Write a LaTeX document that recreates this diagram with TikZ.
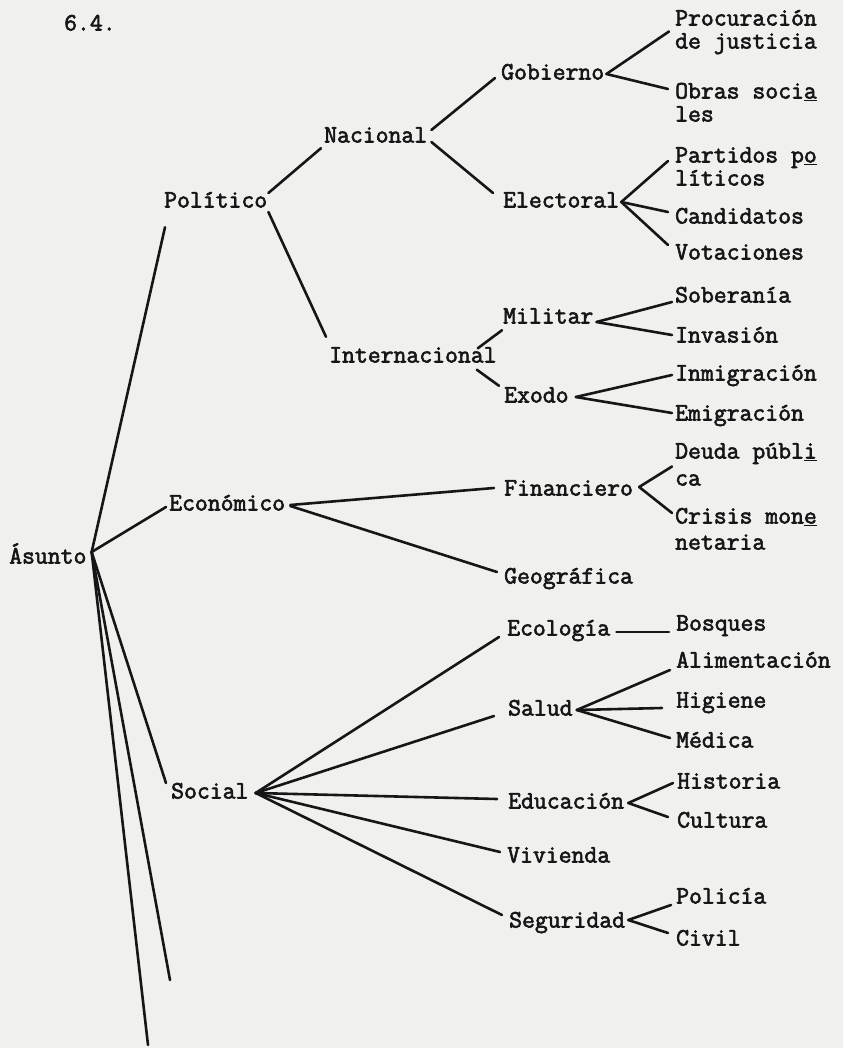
\documentclass[tikz,border=0pt]{standalone}
\usepackage{fontspec}
\newfontfamily\tw{Latin Modern Mono}[FakeBold=2.4]
\usetikzlibrary{calc}
\definecolor{paper}{RGB}{240,240,238}
\definecolor{ink}{RGB}{22,22,22}
\newcommand{\usyl}[1]{\underline{#1}}
\begin{document}
\begin{tikzpicture}[x=1pt,y=-1pt,
  lbl/.style={font=\tw\fontsize{25}{27}\selectfont, text=ink, inner sep=1pt,
              text height=13pt, text depth=2pt, anchor=west},
  conn/.style={draw=ink, line width=2.6pt, line cap=round}]
\fill[paper] (0,0) rectangle (843,1048);
\useasboundingbox (0,0) rectangle (843,1048);

% ---- labels ----
\node[lbl] (t64) at (63,25) {6.4.};
\node[lbl] (asu) at (8,558) {Ásunto};
\node[lbl] (pol) at (163,202) {Político};
\node[lbl] (eco) at (168,505) {Económico};
\node[lbl] (soc) at (170,793) {Social};

\node[lbl] (nac) at (323,137) {Nacional};
\node[lbl] (int) at (328,357) {Internacional};

\node[lbl] (gob) at (500,74) {Gobierno};
\node[lbl] (ele) at (502,202) {Electoral};
\node[lbl] (mil) at (502,318) {Militar};
\node[lbl] (exo) at (503,397) {Exodo};
\node[lbl] (fin) at (503,490) {Financiero};
\node[lbl] (geo) at (503,578) {Geográfica};
\node[lbl] (ecl) at (506,630) {Ecología};
\node[lbl] (sal) at (507,710) {Salud};
\node[lbl] (edu) at (507,803) {Educación};
\node[lbl] (viv) at (506,857) {Vivienda};
\node[lbl] (seg) at (508,922) {Seguridad};

\node[lbl] (pr1) at (674,20) {Procuración};
\node[lbl] (pr2) at (674,43) {de justicia};
\node[lbl] (ob1) at (674,93) {Obras soci\usyl{a}};
\node[lbl] (ob2) at (674,116) {les};
\node[lbl] (pa1) at (674,157) {Partidos p\usyl{o}};
\node[lbl] (pa2) at (674,180) {líticos};
\node[lbl] (can) at (674,218) {Candidatos};
\node[lbl] (vot) at (674,254) {Votaciones};
\node[lbl] (sob) at (674,297) {Soberanía};
\node[lbl] (inv) at (674,337) {Invasión};
\node[lbl] (inm) at (674,375) {Inmigración};
\node[lbl] (emi) at (674,415) {Emigración};
\node[lbl] (de1) at (674,453) {Deuda públ\usyl{i}};
\node[lbl] (de2) at (674,480) {ca};
\node[lbl] (cr1) at (674,518) {Crisis mon\usyl{e}};
\node[lbl] (cr2) at (674,544) {netaria};
\node[lbl] (bos) at (675,625) {Bosques};
\node[lbl] (ali) at (675,662) {Alimentación};
\node[lbl] (hig) at (675,702) {Higiene};
\node[lbl] (med) at (675,742) {Médica};
\node[lbl] (his) at (676,783) {Historia};
\node[lbl] (cul) at (676,822) {Cultura};
\node[lbl] (pcl) at (675,898) {Policía};
\node[lbl] (civ) at (675,940) {Civil};

% ---- helper coordinates ----
\coordinate (hub) at ([xshift=4pt,yshift=6pt]asu.east);
\coordinate (end1) at (170,980);
\coordinate (end2) at (148,1045);
\coordinate (prm) at ($(pr1.west)!.5!(pr2.west)$);
\coordinate (dem) at ($(de1.west)!.5!(de2.west)$);

% ---- connectors ----
\draw[conn] (hub) -- ([xshift=2pt,yshift=-16.5pt]pol.south west);
\draw[conn] (hub) -- ([xshift=-2pt,yshift=-2pt]eco.west);
\draw[conn] (hub) -- ([xshift=-4pt,yshift=10pt]soc.west);
\draw[conn] (hub) -- (end1);
\draw[conn] (hub) -- (end2);

\draw[conn] ([yshift=9pt]pol.east) -- ([xshift=-2pt,yshift=-2.5pt]nac.south west);
\draw[conn] ([yshift=-10pt]pol.east) -- ([xshift=-2pt,yshift=11.5pt]int.north west);

\draw[conn] ([xshift=3pt,yshift=7pt]nac.east) -- ([xshift=-5pt,yshift=-4pt]gob.west);
\draw[conn] ([xshift=3pt,yshift=-5pt]nac.east) -- ([xshift=-9pt,yshift=9pt]ele.west);

\draw[conn] ([xshift=1pt]gob.east) -- ([xshift=-5pt]prm);
\draw[conn] ([xshift=1pt]gob.east) -- ([xshift=-6pt,yshift=4pt]ob1.west);

\draw[conn] ([xshift=1pt]ele.east) -- ([xshift=-6pt,yshift=-4pt]pa1.west);
\draw[conn] ([xshift=1pt]ele.east) -- ([xshift=-6pt,yshift=6pt]can.west);
\draw[conn] ([xshift=1pt]ele.east) -- ([xshift=-6pt,yshift=9pt]vot.west);

\draw[conn] ([xshift=-20pt]int.north east) -- ([yshift=-3.5pt]mil.south west);
\draw[conn] ([xshift=-21pt,yshift=-4pt]int.south east) -- ([xshift=-4pt,yshift=2.5pt]exo.north west);

\draw[conn] ([xshift=2pt,yshift=-4pt]mil.east) -- ([xshift=-2pt,yshift=-5pt]sob.west);
\draw[conn] ([xshift=2pt,yshift=-4pt]mil.east) -- ([xshift=-2pt,yshift=2pt]inv.west);

\draw[conn] ([xshift=6pt]exo.east) -- ([xshift=-2pt]inm.west);
\draw[conn] ([xshift=6pt]exo.east) -- ([xshift=-2pt,yshift=2pt]emi.west);

\draw[conn] ([xshift=4pt,yshift=0pt]eco.east) -- ([xshift=-9pt,yshift=2pt]fin.west);
\draw[conn] ([xshift=4pt,yshift=-1pt]eco.east) -- ([xshift=-6pt,yshift=6pt]geo.west);

\draw[conn] ([xshift=5pt,yshift=3pt]fin.east) -- ([xshift=-2pt]dem);
\draw[conn] ([xshift=5pt,yshift=3pt]fin.east) -- ([xshift=-2pt,yshift=5pt]cr1.west);

\draw[conn] ([xshift=6pt]soc.east) -- ([xshift=-7pt,yshift=-7pt]ecl.west);
\draw[conn] ([xshift=6pt]soc.east) -- ([xshift=-13pt,yshift=-6pt]sal.west);
\draw[conn] ([xshift=6pt]soc.east) -- ([xshift=-10pt,yshift=4pt]edu.west);
\draw[conn] ([xshift=6pt]soc.east) -- ([xshift=-6pt,yshift=5pt]viv.west);
\draw[conn] ([xshift=6pt]soc.east) -- ([xshift=-6pt,yshift=7pt]seg.west);

\draw[conn] ([xshift=5pt,yshift=-2pt]ecl.east) -- ([xshift=-6pt,yshift=-7pt]bos.west);

\draw[conn] ([xshift=3pt]sal.east) -- ([xshift=-5pt,yshift=-8pt]ali.west);
\draw[conn] ([xshift=3pt]sal.east) -- ([xshift=-13pt,yshift=-6pt]hig.west);
\draw[conn] ([xshift=3pt]sal.east) -- ([xshift=-5pt,yshift=4pt]med.west);

\draw[conn] ([xshift=3pt]edu.east) -- ([xshift=-3pt]his.west);
\draw[conn] ([xshift=3pt]edu.east) -- ([xshift=-8pt,yshift=5pt]cul.west);

\draw[conn] ([xshift=2pt,yshift=2pt]seg.east) -- ([xshift=-4pt,yshift=-7pt]pcl.west);
\draw[conn] ([xshift=2pt,yshift=2pt]seg.east) -- ([xshift=-7pt,yshift=7pt]civ.west);
\end{tikzpicture}
\end{document}
